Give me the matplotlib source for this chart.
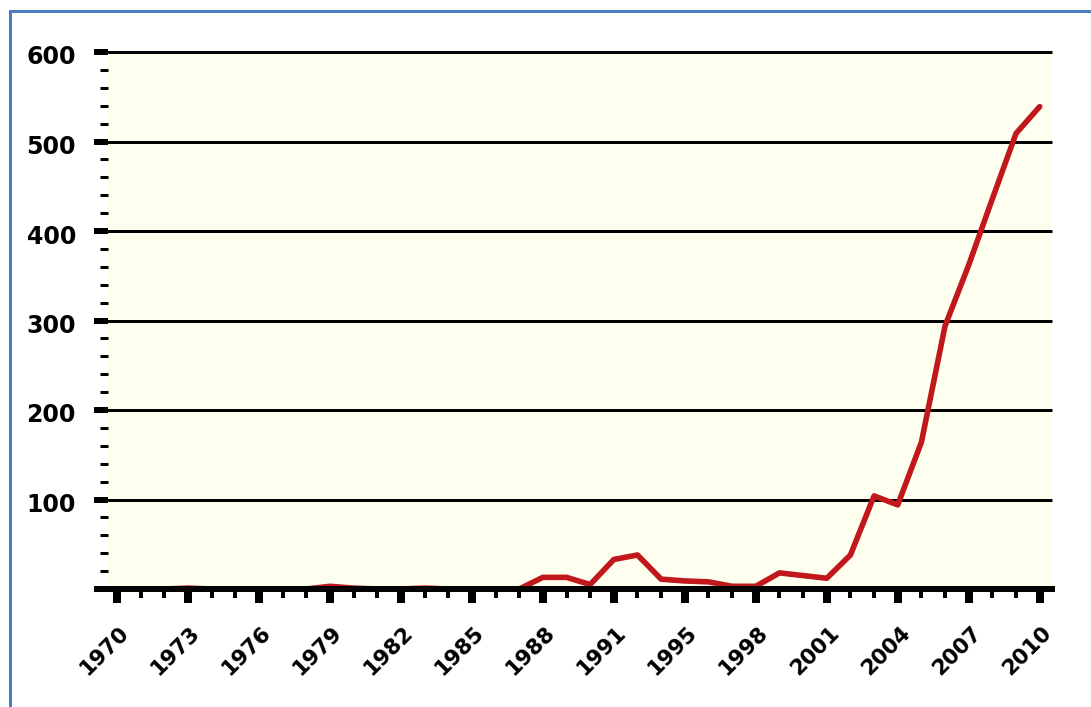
import matplotlib
matplotlib.use('Agg')
import matplotlib.pyplot as plt
from matplotlib.lines import Line2D
from matplotlib.transforms import ScaledTranslation

plt.rcParams['font.family'] = ['DejaVu Sans']
plt.rcParams['font.weight'] = 'bold'

years = [1970, 1971, 1972, 1973, 1974, 1975, 1976, 1977, 1978, 1979,
         1980, 1981, 1982, 1983, 1984, 1985, 1986, 1987, 1988, 1989,
         1990, 1991, 1992, 1993, 1995, 1996, 1997, 1998, 1999, 2000,
         2001, 2002, 2003, 2004, 2005, 2006, 2007, 2008, 2009, 2010]
counts = [0, 0, 0, 1, 0, 0, 0, 0, 0, 3,
          1, 0, 0, 1, 0, 0, 0, 0, 13, 13,
          5, 33, 38, 11, 9, 8, 3, 3, 18, 15,
          12, 38, 104, 94, 164, 294, 362, 436, 509, 539]
y_major = [0, 100, 200, 300, 400, 500, 600]
y_labels = ['', '100', '200', '300', '400', '500', '600']
grid_vals = [100, 200, 300, 400, 500, 600]
label_step = 3

P = 0.72  # points per pixel at 100 dpi
W, H = 1091, 707

fig = plt.figure(figsize=(W / 100, H / 100), dpi=100)
ax = fig.add_axes([108 / W, 118 / H, 944 / W, 537 / H])
ax.set_facecolor('#fffff0')

x = list(range(len(years)))
ax.plot(x, counts, color='#c0181c', lw=5.6 * P, zorder=2.4,
        solid_joinstyle='round', solid_capstyle='round')

ax.hlines(grid_vals, -3 / 944, 1, transform=ax.get_yaxis_transform(),
          colors='black', lw=3 * P, clip_on=False, zorder=2)

ax.set_xlim(-0.38, len(years) - 1 + 0.52)
ax.set_ylim(0, 600)

for s in ['left', 'top', 'right']:
    ax.spines[s].set_visible(False)
ax.spines['bottom'].set_linewidth(6 * P)
ax.spines['bottom'].set_zorder(3)

major_idx = [i for i in x if i % label_step == 0]
minor_idx = [i for i in x if i % label_step != 0]
ax.set_xticks(major_idx)
ax.set_xticklabels([str(years[i]) for i in major_idx], rotation=45,
                   ha='right', va='center', rotation_mode='anchor',
                   fontsize=15.5, fontweight='bold')
ax.set_xticks(minor_idx, minor=True)
ax.tick_params(axis='x', which='major', length=14 * P, width=8 * P,
               pad=19, color='black')
ax.tick_params(axis='x', which='minor', length=9 * P, width=4 * P,
               color='black')

ax.set_yticks(y_major)
ax.set_yticklabels(y_labels, fontsize=17, fontweight='bold')
ax.set_yticks([v for v in range(0, 601, 20) if v % 100 != 0], minor=True)
ax.tick_params(axis='y', which='major', length=14 * P, width=6 * P,
               pad=13, color='black')
ax.tick_params(axis='y', which='minor', length=8 * P, width=3 * P,
               color='black')

for lbl in ax.get_xticklabels():
    lbl.set_transform(lbl.get_transform() +
                      ScaledTranslation(9 / 100, 0, fig.dpi_scale_trans))
for lbl in ax.get_yticklabels():
    lbl.set_transform(lbl.get_transform() +
                      ScaledTranslation(0, -3 / 100, fig.dpi_scale_trans))

border = '#4a7ec2'
fig.add_artist(Line2D([9.5 / W, 9.5 / W], [0, 1 - 10.5 / H], color=border,
                      lw=3 * P, transform=fig.transFigure))
fig.add_artist(Line2D([9.5 / W, 1], [1 - 10.5 / H, 1 - 10.5 / H], color=border,
                      lw=3 * P, transform=fig.transFigure))

fig.savefig('out.png', dpi=100)
